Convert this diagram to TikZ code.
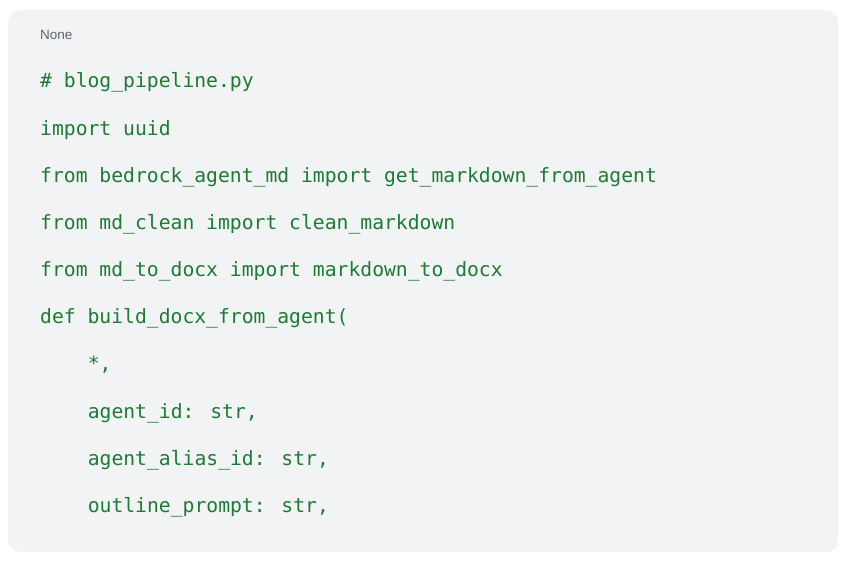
\documentclass[tikz,border=0pt]{standalone}
\usepackage{fontspec}
\setmainfont{Liberation Sans}
\newfontfamily\codefont{DejaVu Sans Mono}
\definecolor{bg}{HTML}{F1F3F4}
\definecolor{codegreen}{HTML}{1E7B34}
\definecolor{lbl}{HTML}{5F6368}
\begin{document}
\begin{tikzpicture}[x=1pt,y=-1pt,
  code/.style={anchor=west,inner sep=0pt,text=codegreen,font=\codefont\fontsize{19.7}{20}\selectfont}]
\useasboundingbox (0,0) rectangle (852,568);
\node[draw=none,fill=bg,rounded corners=12pt,minimum width=830pt,minimum height=542pt,anchor=north west,inner sep=0pt] (box) at (8,10) {};
\node[anchor=west,inner sep=0pt,text=lbl,font=\fontsize{13.5}{14}\selectfont] (lab) at (40,35) {None};
\node[code] (l1) at (40,82) {\# blog\_pipeline.py};
\node[code] (l2) at (40,130) {import uuid};
\node[code] (l3) at (40,177) {from bedrock\_agent\_md import get\_markdown\_from\_agent};
\node[code] (l4) at (40,224) {from md\_clean import clean\_markdown};
\node[code] (l5) at (40,271) {from md\_to\_docx import markdown\_to\_docx};
\node[code] (l6) at (40,318) {def build\_docx\_from\_agent(};
\node[code] (l7) at (87.6,365) {*,};
\node[code] (l8) at (87.6,413) {agent\_id: str,};
\node[code] (l9) at (87.6,460) {agent\_alias\_id: str,};
\node[code] (l10) at (87.6,507) {outline\_prompt: str,};
\end{tikzpicture}
\end{document}
